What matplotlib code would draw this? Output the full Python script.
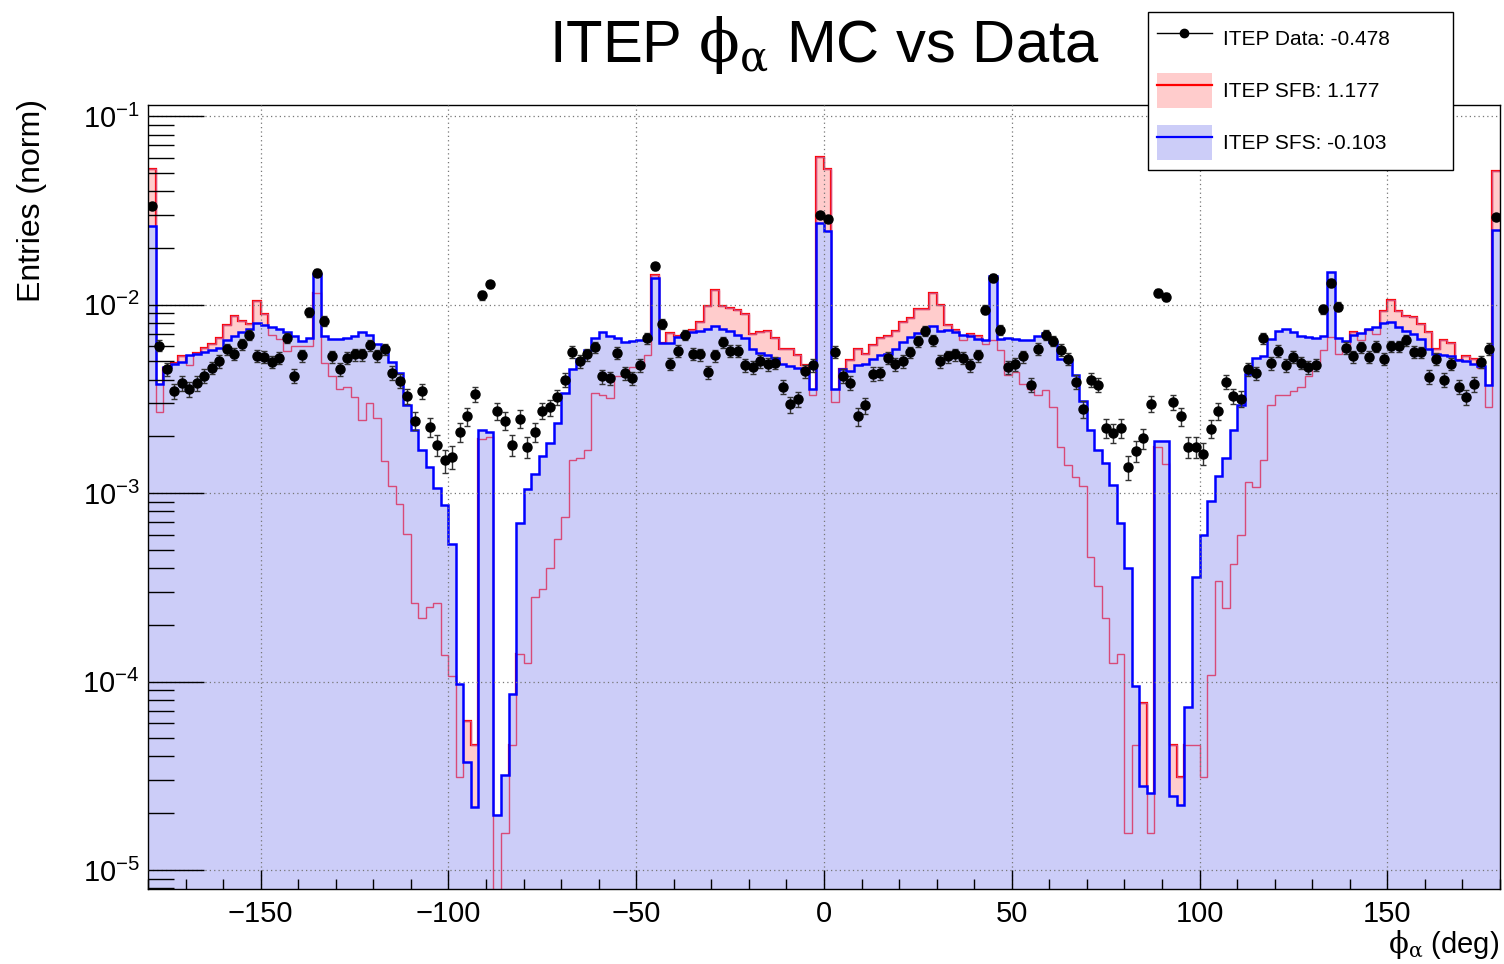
import numpy as np
import matplotlib
matplotlib.use("Agg")
import matplotlib.pyplot as plt
from matplotlib.lines import Line2D
from matplotlib.patches import Patch
from matplotlib.ticker import MultipleLocator, LogLocator, NullFormatter

# 2 degree bins from -180 to 180
edges = np.linspace(-180, 180, 181)

# ITEP SFS (blue)
sfs = [
    2.63e-2, 3.78e-3, 4.67e-3, 4.86e-3, 4.95e-3, 5.38e-3, 5.45e-3, 5.59e-3, 5.76e-3, 5.91e-3,
    6.5e-3, 6.82e-3, 7.13e-3, 7.45e-3, 7.98e-3, 7.83e-3, 7.6e-3, 7.45e-3, 7.13e-3, 6.82e-3,
    6.43e-3, 6.62e-3, 1.46e-2, 6.82e-3, 6.58e-3, 6.58e-3, 6.66e-3, 6.82e-3, 7.13e-3, 6.9e-3,
    6.19e-3, 5.8e-3, 4.98e-3, 4.33e-3, 2.95e-3, 2.16e-3, 1.70e-3, 1.37e-3, 1.06e-3, 8.6e-4,
    5.35e-4, 9.7e-5, 3.76e-5, 2.17e-5, 2.15e-3, 2.12e-3, 1.95e-5, 3.2e-5, 8.6e-5, 6.9e-4,
    1.05e-3, 1.27e-3, 1.57e-3, 1.85e-3, 2.35e-3, 3.38e-3, 4.56e-3, 5.14e-3, 5.73e-3, 6.62e-3,
    7.13e-3, 6.82e-3, 6.62e-3, 6.31e-3, 6.43e-3, 6.5e-3, 6.58e-3, 1.38e-2, 6.23e-3, 6.23e-3,
    6.74e-3, 6.9e-3, 7.2e-3, 7.25e-3, 7.45e-3, 7.69e-3, 7.45e-3, 7.25e-3, 6.9e-3, 6.62e-3,
    5.84e-3, 5.55e-3, 5.38e-3, 5.2e-3, 4.83e-3, 4.7e-3, 4.6e-3, 4.56e-3, 3.59e-3, 2.72e-2,
    2.47e-2, 3.59e-3, 4.56e-3, 4.47e-3, 4.76e-3, 4.83e-3, 5.14e-3, 5.38e-3, 5.49e-3, 5.84e-3,
    6.31e-3, 6.7e-3, 7.04e-3, 7.36e-3, 7.74e-3, 7.25e-3, 7.36e-3, 7.2e-3, 6.9e-3, 6.82e-3,
    6.58e-3, 6.5e-3, 1.42e-2, 6.58e-3, 6.62e-3, 6.58e-3, 6.5e-3, 6.5e-3, 6.82e-3, 7.04e-3,
    6.31e-3, 5.17e-3, 5.07e-3, 4.25e-3, 3.08e-3, 2.16e-3, 1.70e-3, 1.45e-3, 1.11e-3, 6.9e-4,
    4.0e-4, 9.45e-5, 2.8e-5, 2.55e-5, 1.89e-3, 1.89e-3, 2.47e-5, 2.2e-5, 7.35e-5, 3.6e-4,
    5.98e-4, 9.1e-4, 1.23e-3, 1.54e-3, 2.16e-3, 2.95e-3, 4.28e-3, 5.2e-3, 5.31e-3, 6.58e-3,
    7.25e-3, 7.45e-3, 7.13e-3, 6.78e-3, 6.7e-3, 6.62e-3, 6.82e-3, 1.49e-2, 6.62e-3, 6.43e-3,
    6.9e-3, 7.08e-3, 7.45e-3, 7.6e-3, 7.98e-3, 8.1e-3, 7.6e-3, 7.25e-3, 7.0e-3, 6.58e-3,
    5.84e-3, 5.49e-3, 5.38e-3, 5.31e-3, 5.07e-3, 5.01e-3, 4.83e-3, 4.7e-3, 3.77e-3, 2.49e-2,
]

# ITEP SFB (red)
sfb = [
    5.27e-2, 2.71e-3, 4.6e-3, 4.92e-3, 5.31e-3, 4.76e-3, 5.55e-3, 5.91e-3, 6.19e-3, 6.62e-3,
    7.83e-3, 8.7e-3, 8.2e-3, 7.94e-3, 1.05e-2, 8.87e-3, 6.9e-3, 6.58e-3, 5.66e-3, 6.03e-3,
    6.03e-3, 6.03e-3, 1.16e-2, 4.92e-3, 4.19e-3, 3.55e-3, 3.66e-3, 3.23e-3, 2.43e-3, 3.02e-3,
    2.51e-3, 1.48e-3, 1.09e-3, 8.8e-4, 6.1e-4, 2.6e-4, 2.17e-4, 2.48e-4, 2.6e-4, 1.38e-4,
    1.07e-4, 3.1e-5, 6.2e-5, 4.6e-5, 1.93e-3, 1.99e-3, 5e-6, 1.57e-5, 4.6e-5, 1.4e-4,
    1.25e-4, 2.8e-4, 3.1e-4, 4.0e-4, 5.7e-4, 7.5e-4, 1.5e-3, 1.54e-3, 1.70e-3, 3.38e-3,
    3.3e-3, 3.2e-3, 4.19e-3, 4.19e-3, 4.67e-3, 4.6e-3, 5.38e-3, 1.43e-2, 6.27e-3, 7.04e-3,
    6.78e-3, 6.9e-3, 7.36e-3, 8.1e-3, 9.88e-3, 1.19e-2, 9.88e-3, 9.6e-3, 9.33e-3, 8.87e-3,
    7.0e-3, 7.2e-3, 7.25e-3, 6.62e-3, 5.8e-3, 5.8e-3, 5.42e-3, 4.76e-3, 3.33e-3, 6.07e-2,
    5.27e-2, 3.04e-3, 4.56e-3, 5.07e-3, 5.84e-3, 5.45e-3, 6.11e-3, 6.62e-3, 6.78e-3, 7.25e-3,
    8.05e-3, 8.5e-3, 9.45e-3, 9.45e-3, 1.15e-2, 1.0e-2, 7.83e-3, 7.36e-3, 6.5e-3, 7.0e-3,
    6.82e-3, 6.19e-3, 6.5e-3, 5.73e-3, 4.25e-3, 4.4e-3, 3.78e-3, 3.59e-3, 3.3e-3, 3.52e-3,
    2.85e-3, 1.76e-3, 1.41e-3, 1.21e-3, 1.09e-3, 4.6e-4, 3.2e-4, 2.17e-4, 1.25e-4, 1.4e-4,
    1.57e-5, 4.6e-5, 7.7e-5, 1.57e-5, 1.76e-3, 1.43e-3, 4.6e-5, 3.1e-5, 4.6e-5, 4.6e-5,
    3.1e-5, 1.08e-4, 3.4e-4, 2.45e-4, 4.2e-4, 6.0e-4, 1.14e-3, 1.08e-3, 1.5e-3, 2.92e-3,
    3.3e-3, 3.33e-3, 3.48e-3, 3.66e-3, 4.19e-3, 4.92e-3, 5.73e-3, 6.7e-3, 5.49e-3, 5.73e-3,
    7.13e-3, 6.5e-3, 7.36e-3, 7.0e-3, 9.28e-3, 1.06e-2, 9.28e-3, 8.7e-3, 8.6e-3, 7.94e-3,
    7.13e-3, 5.8e-3, 6.5e-3, 6.23e-3, 5.07e-3, 5.31e-3, 5.14e-3, 4.6e-3, 2.88e-3, 5.1e-2,
]

# ITEP Data (black points)
data = [
    3.33e-2, 6.07e-3, 4.53e-3, 3.47e-3, 3.83e-3, 3.57e-3, 3.83e-3, 4.19e-3, 4.63e-3, 5.01e-3,
    5.8e-3, 5.49e-3, 6.19e-3, 6.9e-3, 5.35e-3, 5.28e-3, 4.98e-3, 5.2e-3, 6.66e-3, 4.19e-3,
    5.38e-3, 9.1e-3, 1.48e-2, 8.2e-3, 5.31e-3, 4.53e-3, 5.2e-3, 5.45e-3, 5.45e-3, 6.11e-3,
    5.38e-3, 5.8e-3, 4.35e-3, 3.93e-3, 3.27e-3, 2.42e-3, 3.47e-3, 2.24e-3, 1.81e-3, 1.49e-3,
    1.56e-3, 2.12e-3, 2.55e-3, 3.35e-3, 1.12e-2, 1.28e-2, 2.73e-3, 2.42e-3, 1.81e-3, 2.48e-3,
    1.75e-3, 2.12e-3, 2.74e-3, 2.85e-3, 3.23e-3, 3.98e-3, 5.62e-3, 5.01e-3, 5.45e-3, 5.95e-3,
    4.16e-3, 4.07e-3, 5.55e-3, 4.33e-3, 4.07e-3, 4.76e-3, 6.62e-3, 1.6e-2, 7.94e-3, 4.86e-3,
    5.7e-3, 6.9e-3, 5.49e-3, 5.45e-3, 4.4e-3, 5.38e-3, 6.35e-3, 5.7e-3, 5.7e-3, 4.76e-3,
    4.67e-3, 5.01e-3, 4.83e-3, 4.92e-3, 3.66e-3, 2.96e-3, 3.16e-3, 4.43e-3, 4.76e-3, 2.98e-2,
    2.85e-2, 5.62e-3, 4.19e-3, 3.86e-3, 2.55e-3, 2.92e-3, 4.3e-3, 4.33e-3, 5.2e-3, 4.83e-3,
    5.01e-3, 5.59e-3, 6.39e-3, 7.25e-3, 6.5e-3, 5.01e-3, 5.31e-3, 5.45e-3, 5.24e-3, 4.76e-3,
    5.38e-3, 9.4e-3, 1.39e-2, 7.36e-3, 4.67e-3, 4.83e-3, 5.31e-3, 3.76e-3, 5.84e-3, 6.9e-3,
    6.43e-3, 5.76e-3, 5.17e-3, 3.88e-3, 2.79e-3, 4.0e-3, 3.76e-3, 2.22e-3, 2.09e-3, 2.22e-3,
    1.37e-3, 1.68e-3, 1.95e-3, 2.98e-3, 1.16e-2, 1.1e-2, 3.04e-3, 2.55e-3, 1.75e-3, 1.75e-3,
    1.62e-3, 2.2e-3, 2.73e-3, 3.88e-3, 3.27e-3, 3.17e-3, 4.53e-3, 4.33e-3, 6.62e-3, 4.89e-3,
    5.7e-3, 4.76e-3, 5.28e-3, 4.92e-3, 4.67e-3, 4.79e-3, 9.45e-3, 1.31e-2, 9.75e-3, 5.91e-3,
    5.31e-3, 5.95e-3, 5.28e-3, 5.99e-3, 5.14e-3, 6.03e-3, 6.03e-3, 6.5e-3, 5.62e-3, 5.59e-3,
    4.14e-3, 5.14e-3, 3.98e-3, 4.86e-3, 3.66e-3, 3.23e-3, 3.78e-3, 4.98e-3, 5.84e-3, 2.92e-2,
]

# approx. number of data entries before normalisation (for poisson errors)
n_events = 35000

labels = ["ITEP Data: -0.478", "ITEP SFB: 1.177", "ITEP SFS: -0.103"]

plt.rcParams['font.family'] = ['Liberation Sans', 'DejaVu Sans']
plt.rcParams['mathtext.fontset'] = 'custom'
plt.rcParams['mathtext.rm'] = 'Liberation Sans'
plt.rcParams['mathtext.it'] = 'Liberation Sans:italic'
plt.rcParams['mathtext.sf'] = 'Liberation Sans'
# greek letters in the ROOT symbol-font look
plt.rcParams['mathtext.tt'] = 'DejaVu Serif'

red_fill = '#ffcccc'
blue_fill = '#cccdf8'

fig = plt.figure(figsize=(15.04, 9.64), dpi=100)
ax = fig.add_axes([0.0984, 0.0778, 0.8989, 0.8133])

sfs = np.array(sfs)
sfb = np.array(sfb)
data = np.array(data)
centers = 0.5 * (edges[1:] + edges[:-1])
err = np.sqrt(data * n_events) / n_events

base = 1e-8
ax.stairs(sfb, edges, baseline=base, fill=True, color=red_fill, zorder=1.0)
ax.stairs(sfb, edges, baseline=None, color='red', lw=1.6, zorder=1.1)
ax.stairs(sfs, edges, baseline=base, fill=True, color=blue_fill, zorder=1.2)
# red line shows through the hatched blue fill
ax.stairs(sfb, edges, baseline=None, color='#d84a78', lw=1.0, zorder=1.3)
ax.stairs(sfs, edges, baseline=None, color='blue', lw=1.8, zorder=1.5)

ax.errorbar(centers, data, yerr=err, fmt='o', color='black', ecolor='#333333',
            ms=6.5, elinewidth=1.0, capsize=2, capthick=1.0, zorder=3)

ax.set_yscale('log')
ax.set_xlim(-180, 180)
ax.set_ylim(7.92e-6, 0.1148)

ax.xaxis.set_major_locator(MultipleLocator(50))
ax.xaxis.set_minor_locator(MultipleLocator(10))
ax.yaxis.set_major_locator(LogLocator(base=10, numticks=10))
ax.yaxis.set_minor_locator(LogLocator(base=10, subs=np.arange(2, 10), numticks=20))
ax.yaxis.set_minor_formatter(NullFormatter())

ax.tick_params(axis='x', which='major', direction='in', length=14, width=1,
               labelsize=21, pad=8)
ax.tick_params(axis='x', which='minor', direction='in', length=7, width=1)
ax.tick_params(axis='y', which='major', direction='in', length=40, width=1,
               labelsize=21, pad=6)
ax.tick_params(axis='y', which='minor', direction='in', length=19, width=1)

ax.set_axisbelow(False)
ax.grid(True, which='major', color='#777777', linestyle=(0, (1, 2.5)), lw=0.9)

for s in ax.spines.values():
    s.set_linewidth(1.0)

fig.text(0.548, 1 - 62 / 964, r"ITEP $\mathtt{\phi}_{\mathtt{\alpha}}$ MC vs Data",
         ha='center', va='baseline', fontsize=43)
fig.text(0.021, 1 - 201 / 964, "Entries (norm)", rotation=90, ha='center',
         va='center', fontsize=23)
fig.text(0.997, 1 - 953 / 964, r"$\mathtt{\phi}_{\mathtt{\alpha}}$ (deg)", ha='right',
         va='baseline', fontsize=21)

handles = [
    Line2D([], [], color='black', marker='o', ms=6, lw=1),
    (Patch(facecolor=red_fill, edgecolor='none'), Line2D([], [], color='red', lw=1.6)),
    (Patch(facecolor=blue_fill, edgecolor='none'), Line2D([], [], color='blue', lw=1.6)),
]
leg = ax.legend(handles, labels, loc='upper left', mode='expand',
                bbox_to_anchor=(1148 / 1504, 1 - 12 / 964, 305 / 1504, 0.0),
                bbox_transform=fig.transFigure, fontsize=15, frameon=True,
                fancybox=False, framealpha=1, edgecolor='black',
                handlelength=2.6, handleheight=2.2, handletextpad=0.55,
                labelspacing=0.82, borderpad=0.45, borderaxespad=0)
leg.get_frame().set_linewidth(1.0)
leg.set_zorder(10)

fig.savefig('out.png', dpi=100)
